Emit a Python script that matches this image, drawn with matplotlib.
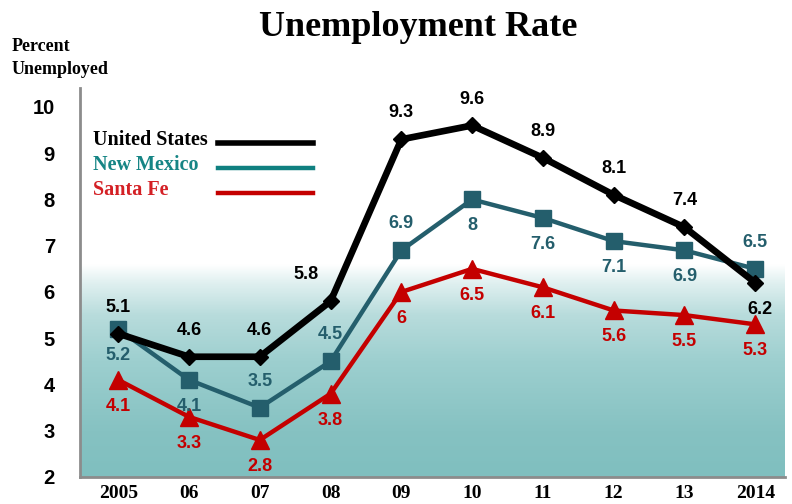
"""Unemployment rate: United States, New Mexico, Santa Fe, 2005-2014."""

import numpy as np
import matplotlib
matplotlib.use('Agg')
import matplotlib.pyplot as plt
from matplotlib.colors import to_rgb

years = ["2005", "06", "07", "08", "09", "10", "11", "12", "13", "2014"]
us_rate = [5.1, 4.6, 4.6, 5.8, 9.3, 9.6, 8.9, 8.1, 7.4, 6.2]
nm_rate = [5.2, 4.1, 3.5, 4.5, 6.9, 8.0, 7.6, 7.1, 6.9, 6.5]
sf_rate = [4.1, 3.3, 2.8, 3.8, 6.0, 6.5, 6.1, 5.6, 5.5, 5.3]
us_labels = ["5.1", "4.6", "4.6", "5.8", "9.3", "9.6", "8.9", "8.1", "7.4", "6.2"]
nm_labels = ["5.2", "4.1", "3.5", "4.5", "6.9", "8", "7.6", "7.1", "6.9", "6.5"]
sf_labels = ["4.1", "3.3", "2.8", "3.8", "6", "6.5", "6.1", "5.6", "5.5", "5.3"]
yticks = [2, 3, 4, 5, 6, 7, 8, 9, 10]

US_COLOR = "#000000"
NM_COLOR = "#245e6c"
NM_TEXT = "#168585"
SF_COLOR = "#c40000"
SF_TEXT = "#d42025"

# label offsets in points (dx, dy)
us_off = [(0, 19), (0, 19), (0, 19), (-18, 19), (0, 19), (0, 19), (0, 19), (0, 19), (0, 19), (3, -19)]
nm_off = [(0, -19), (0, -19), (0, 19), (0, 19), (0, 19), (0, -19), (0, -19), (0, -19), (0, -19), (0, 19)]
sf_off = [(0, -19)] * 10

SANS = ["Liberation Sans", "DejaVu Sans"]
SERIF = ["Liberation Serif", "DejaVu Serif"]

fig = plt.figure(figsize=(7.92, 5.04), dpi=100)
ax = fig.add_axes([80 / 792, 27 / 504, 705 / 792, 389 / 504])

x = np.arange(len(years))
ax.set_xlim(-0.54, 9.42)
ax.set_ylim(2, 10.41)

# background gradient: white above ~6.6, fading to teal at the bottom
stops_v = [2.0, 3.0, 4.5, 5.5, 6.2, 6.6]
stops_c = ["#7fbfbf", "#86c2c2", "#9dcfcf", "#b8dcdc", "#e0f0f0", "#ffffff"]
vv = np.linspace(2, 6.6, 300)
rgb = np.array([to_rgb(c) for c in stops_c])
grad = np.stack([np.interp(vv, stops_v, rgb[:, k]) for k in range(3)], axis=-1)
ax.imshow(grad[:, None, :], aspect="auto", origin="lower",
          extent=(-0.54, 9.42, 2, 6.6), zorder=0)

ax.plot(x, sf_rate, color=SF_COLOR, lw=3.2, marker="^", ms=13, zorder=3)
ax.plot(x, nm_rate, color=NM_COLOR, lw=3.2, marker="s", ms=11, zorder=4)
ax.plot(x, us_rate, color=US_COLOR, lw=4.8, marker="D", ms=8, zorder=5)

for vals, labs, offs, col in [(us_rate, us_labels, us_off, US_COLOR),
                              (nm_rate, nm_labels, nm_off, NM_COLOR),
                              (sf_rate, sf_labels, sf_off, SF_COLOR)]:
    for xi, v, lab, off in zip(x, vals, labs, offs):
        ax.annotate(lab, (xi, v), xytext=off, textcoords="offset points",
                    ha="center", va="center", color=col, zorder=6,
                    family=SANS, fontweight="bold", fontsize=13)

for side in ["top", "right"]:
    ax.spines[side].set_visible(False)
for side in ["left", "bottom"]:
    ax.spines[side].set_color("#8c8c8c")
    ax.spines[side].set_linewidth(2)

ax.set_xticks(x)
ax.set_xticklabels(years, family=SERIF, fontweight="bold", fontsize=14)
ax.set_yticks(yticks)
ax.set_yticklabels([str(t) for t in yticks], family=SANS, fontweight="bold", fontsize=14.5)
ax.tick_params(length=0)
ax.tick_params(axis="x", pad=6)
ax.tick_params(axis="y", pad=18)

fig.text(418 / 792, 1 - 27 / 504, "Unemployment Rate", ha="center", va="center",
         family=SERIF, fontweight="bold", fontsize=26)
fig.text(12 / 792, 1 - 58 / 504, "Percent\nUnemployed", ha="left", va="center",
         family=SERIF, fontweight="bold", fontsize=13, linespacing=1.4)

# legend drawn by hand
leg = [("United States", US_COLOR, US_COLOR, 140),
       ("New Mexico", NM_TEXT, "#0f8080", 165),
       ("Santa Fe", SF_TEXT, SF_COLOR, 190)]
for name, tcol, lcol, ypix in leg:
    yf = 1 - ypix / 504
    fig.text(93 / 792, yf, name, ha="left", va="center", color=tcol,
             family=SERIF, fontweight="bold", fontsize=14.5)
    fig.add_artist(plt.Line2D([218 / 792, 313 / 792], [yf - 0.006, yf - 0.006],
                              color=lcol, lw=4 if name == "United States" else 3.2))

fig.savefig("out.png", dpi=100)
